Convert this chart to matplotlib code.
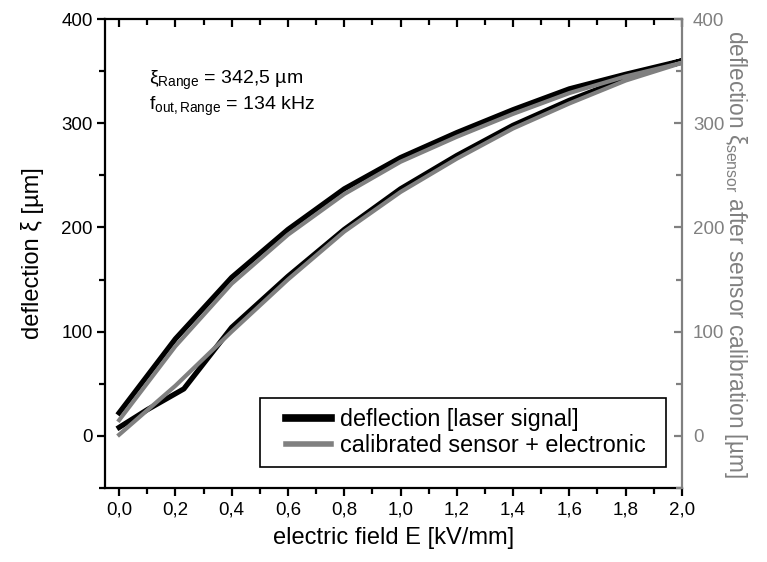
import matplotlib
matplotlib.use("Agg")
import matplotlib.pyplot as plt
from matplotlib.ticker import MultipleLocator, FuncFormatter
from matplotlib.patches import Rectangle

plt.rcParams['font.family'] = ['Liberation Sans', 'DejaVu Sans']
plt.rcParams['mathtext.fontset'] = 'custom'
plt.rcParams['mathtext.rm'] = 'Liberation Sans'
plt.rcParams['mathtext.it'] = 'Liberation Sans'

# Black: deflection [laser signal] (loop: rising then falling)
laser_E = [0.0, 0.1, 0.23, 0.4, 0.6, 0.8, 1.0, 1.2, 1.4, 1.6, 1.8, 2.0,
           1.8, 1.6, 1.4, 1.2, 1.0, 0.8, 0.6, 0.4, 0.2, 0.0]
laser_xi = [8, 25, 45, 104, 153, 198, 237, 269, 298, 322, 343, 360,
            347, 333, 313, 291, 267, 237, 198, 152, 93, 22]

# Gray: calibrated sensor + electronic
sensor_E = [0.0, 0.2, 0.4, 0.6, 0.8, 1.0, 1.2, 1.4, 1.6, 1.8, 2.0,
            1.8, 1.6, 1.4, 1.2, 1.0, 0.8, 0.6, 0.4, 0.2, 0.0]
sensor_xi = [1, 48, 100, 150, 196, 234, 266, 295, 319, 341, 358,
             345, 329, 309, 287, 263, 232, 193, 146, 86, 15]

GRAY = '#808080'

fig = plt.figure(figsize=(7.67, 5.62), dpi=100)
ax = fig.add_axes([0.137, 0.132, 0.752, 0.834])

ax.plot(laser_E, laser_xi, color='black', lw=3.8, solid_joinstyle='round',
        label='deflection [laser signal]', zorder=2)
ax.plot(sensor_E, sensor_xi, color=GRAY, lw=3.0, solid_joinstyle='round',
        label='calibrated sensor + electronic', zorder=3)

ax.set_xlim(-0.05, 2.0)
ax.set_ylim(-50, 400)
ax.xaxis.set_major_locator(MultipleLocator(0.2))
ax.xaxis.set_minor_locator(MultipleLocator(0.1))
ax.yaxis.set_major_locator(MultipleLocator(100))
ax.yaxis.set_minor_locator(MultipleLocator(50))
ax.xaxis.set_major_formatter(FuncFormatter(lambda v, p: f"{v:.1f}".replace('.', ',')))

for s in ['left', 'bottom', 'top']:
    ax.spines[s].set_linewidth(1.6)
ax.spines['right'].set_visible(False)

TICK_FS = 13.5
ax.tick_params(axis='x', which='major', direction='out', length=6, width=1.6,
               labelsize=TICK_FS, top=True, pad=4)
ax.tick_params(axis='x', which='minor', direction='out', length=4, width=1.6, top=True)
ax.tick_params(axis='y', which='major', direction='out', length=6, width=1.6,
               labelsize=TICK_FS, pad=3)
ax.tick_params(axis='y', which='minor', direction='out', length=4, width=1.6)
# top ticks inward
for t in ax.xaxis.get_major_ticks() + ax.xaxis.get_minor_ticks():
    t.tick2line.set_marker(3)  # TICKDOWN
ax.set_xlabel('electric field E [kV/mm]', fontsize=17, labelpad=6)
ax.set_ylabel('deflection ξ [µm]', fontsize=17, labelpad=12)

ax2 = ax.twinx()
ax2.set_ylim(-50, 400)
ax2.yaxis.set_major_locator(MultipleLocator(100))
ax2.yaxis.set_minor_locator(MultipleLocator(50))
for s in ['left', 'bottom', 'top']:
    ax2.spines[s].set_visible(False)
ax2.spines['right'].set_color(GRAY)
ax2.spines['right'].set_linewidth(1.6)
ax2.tick_params(axis='y', which='major', direction='in', length=6, width=1.6,
                colors=GRAY, labelsize=TICK_FS, pad=8)
ax2.tick_params(axis='y', which='minor', direction='in', length=4, width=1.6, colors=GRAY)
ax2.set_ylabel(r'deflection $\xi_{\rm sensor}$ after sensor calibration [µm]',
               fontsize=16.3, color=GRAY, rotation=270, labelpad=18)

ax.text(0.105, 338, r'$\xi_{\rm Range}$ = 342,5 µm', fontsize=14)
ax.text(0.105, 313, r'$f_{\rm out,Range}$ = 134 kHz', fontsize=14)

leg = ax.legend(loc='lower right', bbox_to_anchor=(0.955, 0.045), fontsize=16.8,
                frameon=False, handlelength=1.95, borderpad=0.42,
                labelspacing=0.12, handletextpad=0.4, borderaxespad=0)
leg.set_zorder(6)
for line in leg.get_lines():
    line.set_linewidth(5.5 if line.get_color() == 'black' else 4)

fig.canvas.draw()
bb = leg.get_window_extent()
pad_l, pad_r = 16, 10
x0, y0 = ax.transAxes.inverted().transform((bb.x0 - pad_l, bb.y0))
x1, y1 = ax.transAxes.inverted().transform((bb.x1 + pad_r, bb.y1))
ax.add_patch(Rectangle((x0, y0), x1 - x0, y1 - y0, transform=ax.transAxes,
                       facecolor='white', edgecolor='black', lw=1.2, zorder=5,
                       clip_on=False))

fig.savefig('out.png', dpi=100)
